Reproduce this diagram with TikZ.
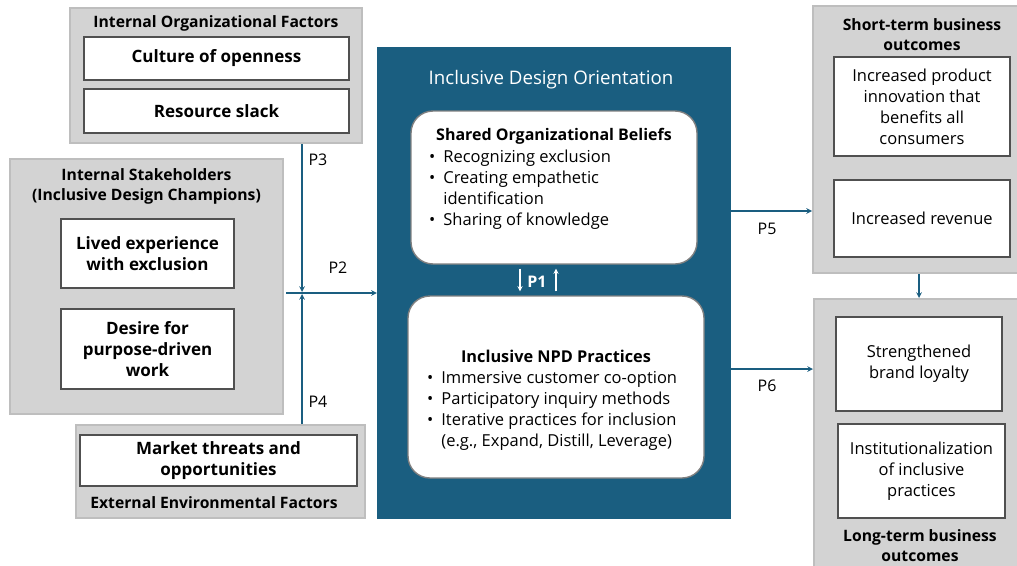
\documentclass[tikz,border=0pt]{standalone}
\usepackage{fontspec}
\setmainfont{Open Sans}
\usepackage{tikz}
\usetikzlibrary{arrows, positioning, calc}
\definecolor{idoblue}{RGB}{26,94,128}
\definecolor{groupfill}{RGB}{211,211,211}
\definecolor{groupline}{RGB}{190,190,190}
\definecolor{boxline}{RGB}{80,80,80}

\begin{document}
\begin{tikzpicture}[
			x=1pt, y=-1pt,
			group/.style={
					draw=groupline,
					fill=groupfill,
					line width=2pt,
					inner sep=0pt
				},
			factor/.style={
					draw=boxline,
					fill=white,
					line width=1.4pt,
					align=center,
					inner sep=0pt,
					font=\fontsize{17}{21}\selectfont\bfseries
				},
			outcome/.style={factor, font=\fontsize{16.5}{21}\selectfont},
			heading/.style={align=center, inner sep=0pt, font=\fontsize{15.7}{20}\selectfont\bfseries},
			belief/.style={draw=gray, fill=white, line width=1.4pt, rounded corners=22pt, inner sep=0pt},
			bullets/.style={inner sep=0pt, anchor=north west, font=\fontsize{16.5}{21}\selectfont},
			plabel/.style={inner sep=0pt, font=\fontsize{16}{18}\selectfont},
			link/.style={->, >=stealth, idoblue, line width=1.5pt}
		]
		\useasboundingbox (0,0) rectangle (1017,565);

		% left side: antecedents
		\node[group, minimum width=292, minimum height=135] (orgfac) at (216,75.5) {};
		\node[heading] (orgfac-title) at (216,23.5) {Internal Organizational Factors};
		\node[factor, minimum width=265, minimum height=43] (openness) at (216.5,58.5) {Culture of openness};
		\node[factor, minimum width=265, minimum height=44] (slack) at (216.5,111) {Resource slack};

		\node[group, minimum width=273, minimum height=255] (stake) at (146.5,286.5) {};
		\node[heading] (stake-title) at (146.5,186) {Internal Stakeholders\\(Inclusive Design Champions)};
		\node[factor, minimum width=173, minimum height=69] (lived) at (147.5,253.5) {Lived experience\\with exclusion};
		\node[factor, minimum width=173, minimum height=80] (desire) at (147.5,349) {Desire for\\purpose-driven\\work};

		\node[group, minimum width=289, minimum height=93] (envfac) at (220.5,471.5) {};
		\node[factor, minimum width=277, minimum height=51] (market) at (218.5,460.5) {Market threats and\\opportunities};
		\node[heading] (envfac-title) at (214,503) {External Environmental Factors};

		% middle: inclusive design orientation
		\node[fill=idoblue, inner sep=0pt, minimum width=354, minimum height=472] (ido) at (554,283) {};
		\node[inner sep=0pt, text=white, font=\fontsize{18.7}{22}\selectfont] (ido-title) at (551,80) {Inclusive Design Orientation};

		\node[belief, minimum width=286, minimum height=153] (beliefs) at (554,187.5) {};
		\node[heading, font=\fontsize{16}{21}\selectfont\bfseries] (beliefs-title) at (554,136) {Shared Organizational Beliefs};
		\node[bullets] (beliefs-list) at (429,148) {%
			\begin{tabular}{@{}l@{\hspace{8pt}}l@{}}
				\textbullet & Recognizing exclusion \\
				\textbullet & Creating empathetic   \\
				            & identification        \\
				\textbullet & Sharing of knowledge
			\end{tabular}};

		\node[belief, minimum width=296, minimum height=182] (npd) at (556,387) {};
		\node[heading, font=\fontsize{16.3}{21}\selectfont\bfseries] (npd-title) at (556,356) {Inclusive NPD Practices};
		\node[bullets] (npd-list) at (427,369) {%
			\begin{tabular}{@{}l@{\hspace{8pt}}l@{}}
				\textbullet & Immersive customer co-option     \\
				\textbullet & Participatory inquiry methods    \\
				\textbullet & Iterative practices for inclusion \\
				            & (e.g., Expand, Distill, Leverage)
			\end{tabular}};

		% right side: outcomes
		\node[group, minimum width=209, minimum height=267] (short) at (917.5,139.5) {};
		\node[heading] (short-title) at (922,35) {Short-term business\\outcomes};
		\node[outcome, minimum width=176, minimum height=99] (product) at (922,106.5) {Increased product\\innovation that\\benefits all\\consumers};
		\node[outcome, minimum width=176, minimum height=77] (revenue) at (922,218.5) {Increased revenue};

		\node[group, minimum width=208, minimum height=273] (long) at (918,435.5) {};
		\node[outcome, minimum width=166, minimum height=94] (loyalty) at (919,364) {Strengthened\\brand loyalty};
		\node[outcome, minimum width=167, minimum height=94] (institut) at (921.5,471) {Institutionalization\\of inclusive\\practices};
		\node[heading] (long-title) at (920,546) {Long-term business\\outcomes};

		% propositions
		\coordinate (junction) at (302,293);
		\coordinate (p2start) at (286,293);
		\draw[link, shorten >=1pt] (orgfac.south -| junction) -- (junction);
		\draw[link, shorten >=1pt] (envfac.north -| junction) -- (junction);
		\draw[link] (p2start) -- (p2start -| ido.west);
		\node[plabel] (p3) at (318,160) {P3};
		\node[plabel] (p2) at (338,268) {P2};
		\node[plabel] (p4) at (318,402) {P4};

		\draw[->, >=stealth, white, line width=1.3pt] ([xshift=-34pt, yshift=-4pt]beliefs.south) -- ([xshift=-36pt, yshift=4pt]npd.north);
		\draw[->, >=stealth, white, line width=1.3pt] ([xshift=0pt, yshift=4pt]npd.north) -- ([xshift=2pt, yshift=-4pt]beliefs.south);
		\node[plabel, text=white, font=\fontsize{16}{18}\selectfont\bfseries] (p1) at (537,282) {P1};

		\coordinate (p5start) at (731,211);
		\coordinate (p6start) at (731,369);
		\draw[link] (p5start) -- (p5start -| short.west);
		\draw[link] (p6start) -- (p6start -| long.west);
		\node[plabel] (p5) at (767,229) {P5};
		\node[plabel] (p6) at (767,386) {P6};

		\draw[link] (short.south -| loyalty) -- (long.north -| loyalty);
	\end{tikzpicture}
\end{document}
